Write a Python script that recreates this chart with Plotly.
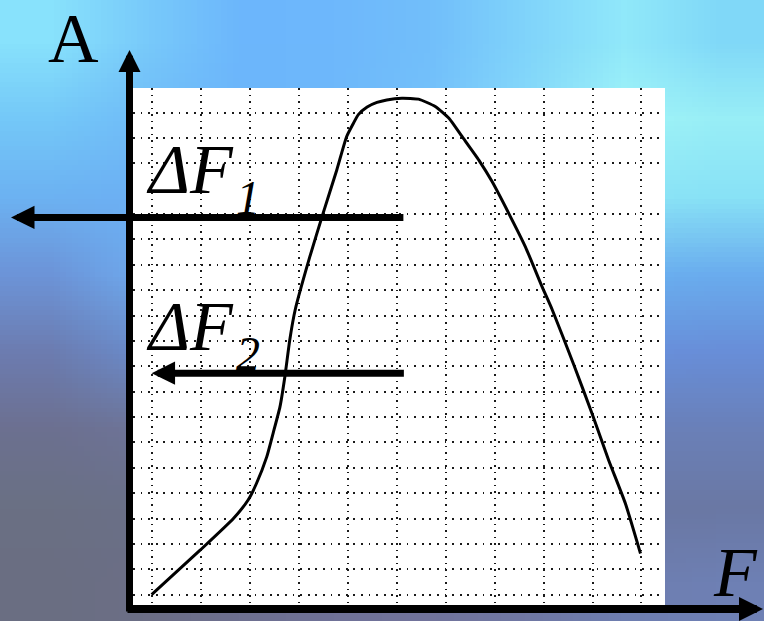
import base64
import struct
import zlib

import plotly.graph_objects as go

# Response curve A(F), in grid units
F_vals = [0.0, 0.99, 1.67, 1.97, 2.14, 2.35, 2.48, 2.62, 2.72, 2.82, 2.93,
          3.23, 3.50, 3.78, 3.98, 4.12, 4.22, 4.40, 4.60, 4.80, 5.11, 5.45, 5.79, 6.07,
          6.34, 6.68, 6.95, 7.29, 7.63, 7.97, 8.18, 8.62, 8.99, 9.33, 9.67, 9.98]
A_vals = [0.0, 1.75, 3.00, 3.73, 4.38, 5.43, 6.36, 7.40, 8.59, 10.04, 11.22,
          13.32, 15.03, 16.74, 18.05, 18.58, 18.92, 19.22, 19.40, 19.50, 19.57, 19.53, 19.24, 18.78,
          18.05, 17.13, 16.28, 15.03, 13.71, 12.14, 11.22, 9.05, 7.14, 5.30, 3.60, 1.62]

# Bandwidth arrows: level, left end (arrow tip), right end
band_labels = ["1", "2"]
band_levels = [14.87, 8.73]
band_left = [-2.87, 0.0]
band_right = [5.17, 5.18]

# Grid
x_grid = list(range(0, 11))
y_grid = [v for v in range(0, 20) if v != 16]

W, H = 764, 621
SERIF = "Liberation Serif"

# Soft sky backdrop, upscaled by the browser
sky_rows = [
    ["#88e2fc", "#78cafa", "#6cb6fc", "#6eb8fc", "#72bffa", "#80d4fa", "#90e8fa", "#80d8f8"],
    ["#74c8f8", "#70bcf8", "#6cb6fa", "#6eb8fa", "#74c2fa", "#86dafa", "#a0f4f8", "#98eef6"],
    ["#6cb2f2", "#6cb0f4", "#6cb0f4", "#6eb4f4", "#74bcf4", "#80d0f4", "#8ce4f6", "#88e2f6"],
    ["#6c94d8", "#6eaaee", "#6caaee", "#6caaee", "#6caeee", "#6ab2ee", "#6ab0f0", "#6aacee"],
    ["#6c7cb0", "#6a8ccc", "#6a8ccc", "#6a8ed0", "#6a90d4", "#6892d8", "#6890dc", "#688ed8"],
    ["#6c7090", "#6e7498", "#6c78a0", "#6c7aa8", "#6a7cb0", "#6a80b8", "#6a80b8", "#6a80b8"],
    ["#6a7084", "#6a7088", "#6c7290", "#6c7498", "#6c76a0", "#6a78a4", "#6a78a4", "#6a78a4"],
    ["#6a6e82", "#6c6e86", "#6e7090", "#707298", "#72749c", "#7078a4", "#6e7eb0", "#6e80b4"],
]


def png_uri(rows):
    h, w = len(rows), len(rows[0])
    raw = b"".join(b"\x00" + bytes(b for c in row for b in bytes.fromhex(c[1:])) for row in rows)

    def chunk(tag, data):
        body = tag + data
        return struct.pack(">I", len(data)) + body + struct.pack(">I", zlib.crc32(body) & 0xFFFFFFFF)

    png = (b"\x89PNG\r\n\x1a\n"
           + chunk(b"IHDR", struct.pack(">IIBBBBB", w, h, 8, 2, 0, 0, 0))
           + chunk(b"IDAT", zlib.compress(raw))
           + chunk(b"IEND", b""))
    return "data:image/png;base64," + base64.b64encode(png).decode()


def px(x):
    return x / W


def py(y):
    return 1 - y / H


fig = go.Figure()
fig.add_trace(go.Scatter(
    x=F_vals, y=A_vals, mode="lines",
    line=dict(color="black", width=3, shape="spline", smoothing=0.5),
    hoverinfo="skip",
))

annotations = []
# Axis arrows
annotations.append(dict(xref="paper", yref="paper", x=px(129.5), y=py(50), ax=0, ay=563,
                        text="", showarrow=True, arrowhead=2, arrowwidth=7, arrowsize=0.63,
                        arrowcolor="black"))
annotations.append(dict(xref="paper", yref="paper", x=px(766), y=py(609), ax=-640, ay=0,
                        text="", showarrow=True, arrowhead=2, arrowwidth=8, arrowsize=0.6,
                        arrowcolor="black"))
# Axis labels
annotations.append(dict(xref="paper", yref="paper", x=px(73), y=py(38.5), text="A",
                        showarrow=False, xanchor="center", yanchor="middle",
                        font=dict(family=SERIF, size=70, color="black")))
annotations.append(dict(xref="paper", yref="paper", x=px(735), y=py(572.5), text="F",
                        showarrow=False, xanchor="center", yanchor="middle",
                        font=dict(family=SERIF, size=70, color="black", style="italic")))

# Bandwidth arrows and their labels
label_base = [193.3, 350.0]
for lab, lev, x0, x1, base in zip(band_labels, band_levels, band_left, band_right, label_base):
    annotations.append(dict(xref="x", yref="y", x=x0, y=lev, axref="x", ayref="y", ax=x1, ay=lev,
                            text="", showarrow=True, arrowhead=2, arrowwidth=7,
                            arrowsize=0.67, arrowcolor="black"))
    annotations.append(dict(xref="paper", yref="paper", x=px(144), y=py(base - 23.6),
                            text="ΔF", showarrow=False, xanchor="left", yanchor="middle",
                            font=dict(family=SERIF, size=70, color="black", style="italic")))
    annotations.append(dict(xref="paper", yref="paper", x=px(234), y=py(base + 20 - 16.2),
                            text=lab, showarrow=False, xanchor="left", yanchor="middle",
                            font=dict(family=SERIF, size=48, color="black", style="italic")))

common = dict(showgrid=True, gridcolor="#1a1a1a", gridwidth=1.8,
              zeroline=False, showline=False, showticklabels=False, ticks="")

fig.update_layout(
    width=W, height=H, autosize=False,
    margin=dict(l=0, r=0, t=0, b=0),
    paper_bgcolor="#6c9ad8", plot_bgcolor="rgba(0,0,0,0)",
    showlegend=False,
    xaxis=dict(domain=[133 / W, 665 / W], range=[-0.38, 10.48], tickvals=x_grid,
               griddash="1.8px,4.7px", **common),
    yaxis=dict(domain=[1 - 605 / H, 1 - 88 / H], range=[-0.41, 19.97], tickvals=y_grid,
               griddash="1.8px,5.8px", **common),
    images=[dict(source=png_uri(sky_rows), xref="paper", yref="paper", x=0, y=1,
                 sizex=1, sizey=1, sizing="stretch", xanchor="left", yanchor="top",
                 layer="below")],
    shapes=[dict(type="rect", xref="x domain", yref="y domain", x0=0, x1=1, y0=0, y1=1,
                 fillcolor="white", line=dict(width=0), layer="below")],
    annotations=annotations,
)

fig.write_html("out.html")
